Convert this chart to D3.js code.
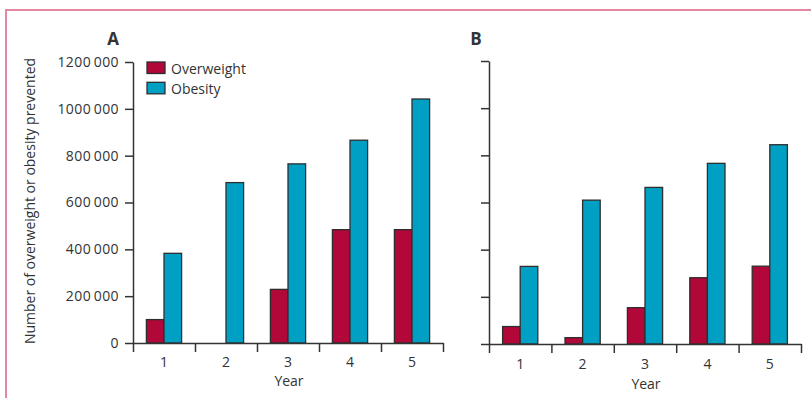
<!DOCTYPE html>
<html><head><meta charset="utf-8">
<script src="https://cdn.jsdelivr.net/npm/d3@7"></script>
<style>
html,body{margin:0;padding:0;background:#fff;}
svg{display:block;}
text{font-family:"Open Sans",sans-serif;fill:#333;}
</style></head>
<body>
<script>
const years = ["1", "2", "3", "4", "5"];
const seriesNames = ["Overweight", "Obesity"];
const seriesColors = ["#b10739", "#00a0c5"];
const overweightA = [100000, 0, 229000, 484000, 484000];
const obesityA = [383000, 685000, 765000, 866000, 1042000];
const overweightB = [74000, 27000, 154000, 281000, 330000];
const obesityB = [329000, 610000, 664000, 766000, 845000];
const yTickValues = [0, 200000, 400000, 600000, 800000, 1000000, 1200000];
const yTickLabels = ["0", "200\u2009000", "400\u2009000", "600\u2009000", "800\u2009000", "1000\u2009000", "1200\u2009000"];
const panelLetters = ["A", "B"];
const yAxisTitle = "Number of overweight or obesity prevented";
const xAxisTitle = "Year";

const W = 811, H = 398;
const svg = d3.select("body").append("svg").attr("width", W).attr("height", H);

// pink frame
svg.append("path")
  .attr("d", `M6,${H + 5} L6,10 L${W + 5},10`)
  .attr("fill", "none").attr("stroke", "#e2879f").attr("stroke-width", 2);

const panels = [
  { letter: panelLetters[0], ow: overweightA, ob: obesityA, x0: 133, x1: 443, yTop: 62, yBot: 343, labels: true, letterX: 113, yearY: 386, tickY: 367 },
  { letter: panelLetters[1], ow: overweightB, ob: obesityB, x0: 489, x1: 801, yTop: 61, yBot: 344, labels: false, letterX: 476, yearY: 389, tickY: 369 }
];

panels.forEach(p => {
  const g = svg.append("g");
  const y = d3.scaleLinear().domain([0, 1200000]).range([p.yBot, p.yTop]);
  const x = d3.scaleBand().domain(years).range([p.x0, p.x1]).padding(0);
  const bw = x.bandwidth();
  const barW = 17.6;
  const xs = d3.scaleBand().domain(seriesNames).range([bw / 2 - barW, bw / 2 + barW]).padding(0);

  // bars
  const data = [p.ow, p.ob];
  data.forEach((vals, si) => {
    g.selectAll(null).data(years.map((yr, i) => ({ yr, v: vals[i] })).filter(d => d.v > 0))
      .enter().append("rect")
      .attr("x", d => x(d.yr) + xs(seriesNames[si]))
      .attr("width", xs.bandwidth())
      .attr("y", d => y(d.v))
      .attr("height", d => y(0) - y(d.v))
      .attr("fill", seriesColors[si])
      .attr("stroke", "#2e2e2e").attr("stroke-width", 1.3);
  });

  // y axis
  const ya = d3.axisLeft(y).tickValues(yTickValues).tickSize(8).tickSizeOuter(0).tickPadding(6)
    .tickFormat((d, i) => p.labels ? yTickLabels[i] : "");
  const yg = g.append("g").attr("transform", `translate(${p.x0},0)`).call(ya);
  yg.selectAll("path,line").attr("stroke", "#333").attr("stroke-width", 1.5);
  yg.selectAll("text").attr("font-size", 14).attr("font-family", "Open Sans").attr("fill", "#333").style("letter-spacing", "0.4px");

  // x axis boundary ticks
  const xl = d3.scaleLinear().domain([0, years.length]).range([p.x0, p.x1]);
  const xa = d3.axisBottom(xl).tickValues(d3.range(years.length + 1)).tickSize(9).tickSizeOuter(0).tickFormat("");
  const xg = g.append("g").attr("transform", `translate(0,${p.yBot})`).call(xa);
  xg.selectAll("path,line").attr("stroke", "#333").attr("stroke-width", 1.5);

  // x labels
  const xb = d3.axisBottom(x).tickSize(0).tickPadding(0);
  const xbg = g.append("g").attr("transform", `translate(0,${p.yBot})`).call(xb);
  xbg.select(".domain").remove();
  xbg.selectAll("text").attr("dy", null).attr("y", p.tickY - p.yBot)
    .attr("font-size", 14).attr("font-family", "Open Sans").attr("fill", "#333");

  // year title
  g.append("text").attr("x", (p.x0 + p.x1) / 2 + 1).attr("y", p.yearY)
    .attr("text-anchor", "middle").attr("font-size", 14).text(xAxisTitle);

  // panel letter
  g.append("text").attr("x", p.letterX).attr("y", 45).attr("text-anchor", "middle")
    .attr("font-size", 17).attr("font-weight", "bold").text(p.letter);
});

// y axis title
svg.append("text").attr("transform", "translate(35,201) rotate(-90)")
  .attr("text-anchor", "middle").attr("font-size", 14).text(yAxisTitle);

// legend
const leg = svg.append("g");
seriesNames.forEach((n, i) => {
  leg.append("rect").attr("x", 147).attr("y", 62 + i * 20.3).attr("width", 18).attr("height", 11.5)
    .attr("fill", seriesColors[i]).attr("stroke", "#2e2e2e").attr("stroke-width", 1.3);
  leg.append("text").attr("x", 171).attr("y", 74 + i * 20.3).attr("font-size", 14).text(n);
});
</script>
</body></html>
